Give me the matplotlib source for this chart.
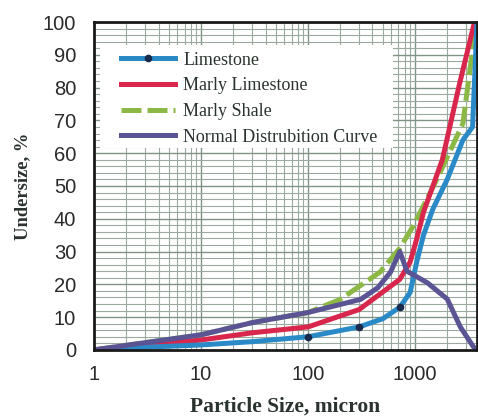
import matplotlib
matplotlib.use("Agg")
import matplotlib.pyplot as plt
from matplotlib.ticker import FixedLocator, NullFormatter, MultipleLocator
from matplotlib.patches import Rectangle

# Data
lime_x = [1, 3, 10, 30, 100, 300, 500, 720, 900, 1040, 1200, 1470, 2000, 2800, 3450, 3800]
lime_y = [0, 0.8, 1.5, 2.5, 4, 7, 9.5, 13, 17.5, 27, 35, 43, 52, 64, 68, 100]

marly_lime_x = [1, 10, 30, 100, 300, 720, 900, 1040, 1200, 1800, 2600, 3600]
marly_lime_y = [0, 3, 5.2, 7, 12.3, 21.5, 26.8, 34, 42, 58, 81, 100]

marly_shale_x = [1, 10, 30, 100, 200, 470, 720, 970, 1600, 2800, 3700]
marly_shale_y = [0, 4.6, 8.3, 11.4, 15.4, 23.7, 31, 38, 52, 69, 99]

normal_x = [1, 10, 30, 100, 310, 450, 590, 720, 840, 1300, 2000, 2650, 3500, 3800]
normal_y = [0, 4.6, 8.3, 11.4, 15.4, 19, 23.7, 30, 24, 20.5, 15.5, 7, 1, 0]

series_names = ["Limestone", "Marly Limestone", "Marly Shale", "Normal Distrubition Curve"]
x_ticks = [1, 10, 100, 1000]
x_ticklabels = ["1", "10", "100", "1000"]
y_ticks = list(range(0, 101, 10))

fig = plt.figure(figsize=(4.78, 4.16), dpi=100)
ax = fig.add_axes([0.197, 0.159, 0.801, 0.788])

ax.set_xscale("log")
ax.set_xlim(1, 3800)
ax.set_ylim(0, 100)

# grid
minor_x = [m * 10**d for d in range(0, 4) for m in range(2, 10) if m * 10**d < 3800]
ax.xaxis.set_minor_locator(FixedLocator(minor_x))
ax.xaxis.set_minor_formatter(NullFormatter())
ax.yaxis.set_minor_locator(MultipleLocator(2))
ax.grid(True, which="major", color="#7f9486", lw=1.0)
ax.grid(True, which="minor", color="#9aaa9f", lw=0.8)
ax.set_axisbelow(True)

# white legend backdrop
ax.add_patch(Rectangle((0.016, 0.615), 0.764, 0.315, transform=ax.transAxes,
                       facecolor="white", edgecolor="none", zorder=2))

lw = 3.6
l3, = ax.plot(marly_shale_x, marly_shale_y, color="#8cb846", lw=lw, ls=(0, (4, 1.2)), zorder=3)
l2, = ax.plot(marly_lime_x, marly_lime_y, color="#d8264c", lw=lw, zorder=4)
l1, = ax.plot(lime_x, lime_y, color="#2a8ac8", lw=lw, zorder=5,
              marker="o", ms=4.5, mfc="#1a2a4a", mec="#1a2a4a", markevery=[4, 5, 7])
l4, = ax.plot(normal_x, normal_y, color="#5a5494", lw=lw, zorder=6)

ax.set_xticks(x_ticks)
ax.set_xticklabels(x_ticklabels)
ax.set_yticks(y_ticks)
ax.tick_params(axis="y", which="major", labelsize=14.5, length=0, pad=13)
ax.tick_params(axis="x", which="major", labelsize=14.5, length=0, pad=11)
ax.tick_params(axis="both", which="minor", length=0)
for lab in ax.get_xticklabels() + ax.get_yticklabels():
    lab.set_family("Liberation Sans")
    lab.set_color("#2a2a2a")

for sp in ax.spines.values():
    sp.set_linewidth(2)
    sp.set_color("#1a1a1a")
    sp.set_zorder(7)

ax.set_xlabel("Particle Size, micron", family="Liberation Serif", fontweight="bold",
              fontsize=15.5, color="#2a332d", labelpad=9)
ax.set_ylabel("Undersize, %", family="Liberation Serif", fontweight="bold",
              fontsize=13.3, color="#2a332d", labelpad=8)

leg = ax.legend([l1, l2, l3, l4], series_names, loc="upper left",
                bbox_to_anchor=(0.0705, 0.91), frameon=False,
                borderpad=0, borderaxespad=0,
                prop={"family": "Liberation Serif", "size": 13},
                handlelength=3.0, handletextpad=0.45, labelspacing=0.48)
leg.set_zorder(8)
for t in leg.get_texts():
    t.set_color("#2a332d")

fig.savefig("out.png", dpi=100)
